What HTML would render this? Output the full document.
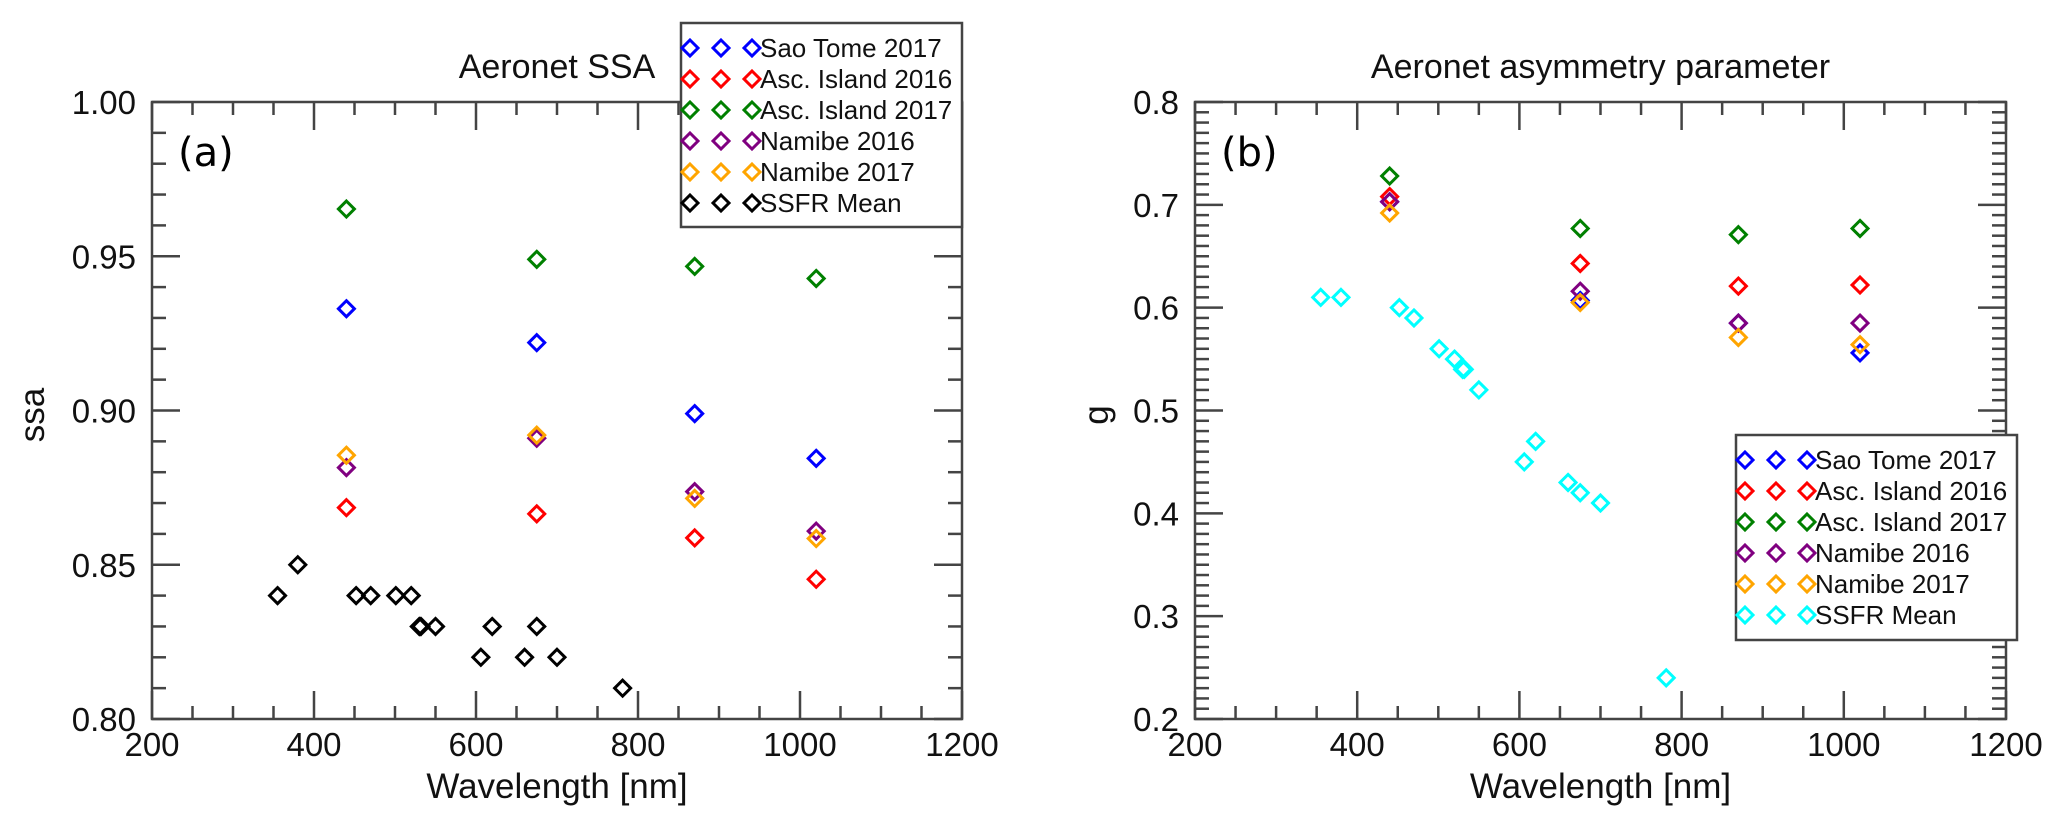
<!DOCTYPE html>
<html><head><meta charset="utf-8">
<style>
body{margin:0;background:#fff;}
svg{display:block;font-family:"Liberation Sans",sans-serif;}
</style></head>
<body>
<svg id="fig" width="2067" height="819" viewBox="0 0 2067 819" xmlns="http://www.w3.org/2000/svg"></svg>
<script>
const series = ["Sao Tome 2017","Asc. Island 2016","Asc. Island 2017","Namibe 2016","Namibe 2017","SSFR Mean"];
const colorsA = ["#0000ff","#ff0000","#008000","#800080","#ffa500","#000000"];
const colorsB = ["#0000ff","#ff0000","#008000","#800080","#ffa500","#00ffff"];
const aeroWl = [440,675,870,1020];
const ssfrWl = [355,380,452,470,501,520,530,532,550,606,620,660,675,700,781];
const ssaSaoTome = [0.933,0.922,0.899,0.8845];
const ssaAsc2016 = [0.8685,0.8665,0.8587,0.8453];
const ssaAsc2017 = [0.9653,0.949,0.9467,0.9428];
const ssaNam2016 = [0.8815,0.891,0.8737,0.8609];
const ssaNam2017 = [0.8855,0.892,0.8715,0.8585];
const ssaSSFR = [0.84,0.85,0.84,0.84,0.84,0.84,0.83,0.83,0.83,0.82,0.83,0.82,0.83,0.82,0.81];
const gSaoTome = [0.703,0.607,0.585,0.556];
const gAsc2016 = [0.708,0.643,0.621,0.622];
const gAsc2017 = [0.728,0.677,0.671,0.677];
const gNam2016 = [0.703,0.616,0.585,0.585];
const gNam2017 = [0.692,0.605,0.571,0.564];
const gSSFR = [0.61,0.61,0.60,0.59,0.56,0.55,0.54,0.54,0.52,0.45,0.47,0.43,0.42,0.41,0.24];
const xTicks = [200,400,600,800,1000,1200];
const yTicksA = ["0.80","0.85","0.90","0.95","1.00"];
const yTicksB = ["0.2","0.3","0.4","0.5","0.6","0.7","0.8"];

const NS="http://www.w3.org/2000/svg";
const svg=document.getElementById('fig');
function mk(tag,attrs,parent){const e=document.createElementNS(NS,tag);for(const k in attrs)e.setAttribute(k,attrs[k]);(parent||svg).appendChild(e);return e;}
const AX="#444";

function panel(opt){
  const g=mk('g',{});
  
  
  const L=opt.left,R=opt.right,T=102,B=719;
  const xs=v=>L+(v-200)/1000*(R-L);
  const ys=v=>B-(v-opt.ymin)/(opt.ymax-opt.ymin)*(B-T);
  for(let w=200;w<=1200;w+=50){
    const maj=(w%200===0);const len=maj?28:13;const x=xs(w);
    mk('line',{x1:x,y1:B,x2:x,y2:B-len,stroke:AX,'stroke-width':2.5},g);
    mk('line',{x1:x,y1:T,x2:x,y2:T+len,stroke:AX,'stroke-width':2.5},g);
  }
  const n=Math.round((opt.ymax-opt.ymin)/0.01);
  for(let i=0;i<=n;i++){
    const v=opt.ymin+i*0.01;const y=ys(v);
    const maj=(i%opt.majEvery===0);const len=maj?28:14;
    mk('line',{x1:L,y1:y,x2:L+len,y2:y,stroke:AX,'stroke-width':2.5},g);
    mk('line',{x1:R,y1:y,x2:R-len,y2:y,stroke:AX,'stroke-width':2.5},g);
  }
  mk('rect',{x:L,y:T,width:R-L,height:B-T,fill:'none',stroke:AX,'stroke-width':2.5},g);
  xTicks.forEach(t=>{const e=mk('text',{x:xs(t),y:B+37,'font-size':33,'text-anchor':'middle',fill:'#111'},g);e.textContent=t;
    
    });
  opt.yTicks.forEach(t=>{const e=mk('text',{x:L-16,y:ys(parseFloat(t))+12,'font-size':33,'text-anchor':'end',fill:'#111'},g);e.textContent=t;
    
    });
  const xt=mk('text',{x:(L+R)/2,y:798,'font-size':35,'text-anchor':'middle',fill:'#111'},g);xt.textContent="Wavelength [nm]";
  
  
  const yt=mk('text',{x:0,y:0,'font-size':35,'text-anchor':'middle',fill:'#111',transform:`translate(${opt.ytx},415) rotate(-90)`},g);yt.textContent=opt.ytitle;
  
  
  const tt=mk('text',{x:(L+R)/2,y:78,'font-size':34,'text-anchor':'middle',fill:'#111'},g);tt.textContent=opt.title;
  
  
  const pl=mk('text',{x:L+26,y:166,'font-size':40,fill:'#000','font-family':'"DejaVu Sans",sans-serif'},g);pl.textContent=opt.label;
  
  
  const dia=(x,y,c,parent)=>mk('path',{d:`M${x} ${y-8}L${x+8} ${y}L${x} ${y+8}L${x-8} ${y}Z`,fill:'none',stroke:c,'stroke-width':3},parent);
  opt.data.forEach((arr,si)=>{
    const wl=si===5?ssfrWl:aeroWl;
    arr.forEach((v,i)=>{const d=dia(xs(wl[i]),ys(v),opt.colors[si],g);
      
      });
  });
  const lg=mk('g',{},g);
  
  
  const lb=opt.legend;
  mk('rect',{x:lb.x,y:lb.y,width:lb.w,height:lb.h,fill:'#fff',stroke:AX,'stroke-width':2.5},lg);
  series.forEach((s,i)=>{
    const y=lb.y+25+i*lb.dy;
    const en=mk('g',{},lg);
    
    
    [9,40,71].forEach(dx=>dia(lb.x+dx,y,opt.colors[i],en));
    const t=mk('text',{x:lb.x+79,y:y+9,'font-size':26,fill:'#111'},en);t.textContent=s;
  });
}
panel({name:'ssa-chart',left:152,right:962,ymin:0.80,ymax:1.00,majEvery:5,yTicks:yTicksA,ytitle:'ssa',ytx:44,title:'Aeronet SSA',label:'(a)',
  colors:colorsA,data:[ssaSaoTome,ssaAsc2016,ssaAsc2017,ssaNam2016,ssaNam2017,ssaSSFR],
  legend:{x:681,y:23,w:281,h:204,dy:31}});
panel({name:'asymmetry-chart',left:1195,right:2006,ymin:0.2,ymax:0.8,majEvery:10,yTicks:yTicksB,ytitle:'g',ytx:1108,title:'Aeronet asymmetry parameter',label:'(b)',
  colors:colorsB,data:[gSaoTome,gAsc2016,gAsc2017,gNam2016,gNam2017,gSSFR],
  legend:{x:1736,y:435,w:281,h:205,dy:31}});
</script>
</body></html>
